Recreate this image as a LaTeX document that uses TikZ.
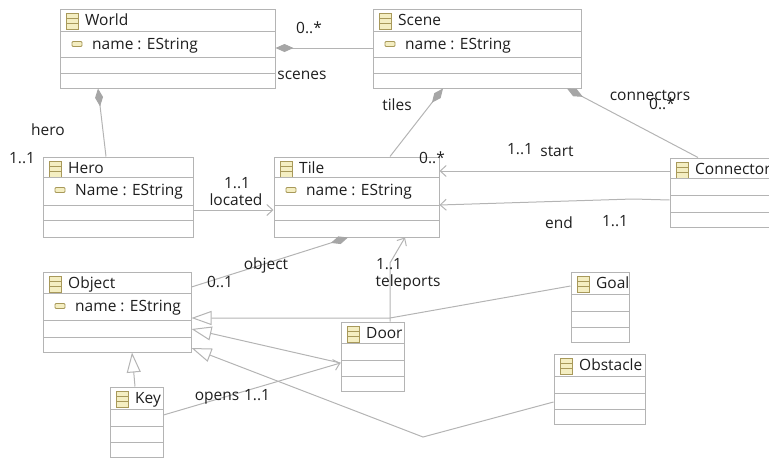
\documentclass[tikz,border=0pt]{standalone}
\usepackage{fontspec}
\setmainfont{Open Sans}
\usetikzlibrary{arrows.meta,fit}

\definecolor{edgegray}{HTML}{B4B4B4}
\definecolor{diamondgray}{HTML}{A6A6A6}
\definecolor{iconfill}{HTML}{F4EEC2}
\definecolor{icondraw}{HTML}{A8995A}
\definecolor{textdark}{HTML}{1E1E1E}

\tikzset{
  classbox/.style={draw=edgegray, line width=1pt, inner sep=0pt, fill=white},
  rowline/.style={draw=edgegray, line width=1pt},
  classicon/.style={draw=icondraw, fill=iconfill, line width=0.8pt},
  lbl/.style={text=textdark, inner sep=0pt, font=\fontsize{15.5}{18}\selectfont},
  assoc/.style={draw=edgegray, line width=1pt},
  comp/.style={assoc, -{Diamond[length=18pt,width=8pt,color=diamondgray,fill=diamondgray]}},
  navig/.style={assoc, -{Straight Barb[length=6pt,width=11pt,line width=1pt]}},
  inherit/.style={assoc, -{Triangle[open,length=20pt,width=14pt,fill=white,line width=1pt]}},
}

% class box: id, left, top, right, bottom, title
\newcommand\umlclass[6]{%
  \node[classbox, fit={(#2,#3) (#4,#5)}] (#1) {};
  \draw[classicon] (#2+6,#3+4) rectangle (#2+18,#3+20);
  \draw[icondraw, line width=0.8pt] (#2+6,#3+9.3) -- (#2+18,#3+9.3)
                                    (#2+6,#3+14.7) -- (#2+18,#3+14.7);
  \node[lbl, anchor=base west] at (#2+25,#3+16.5) {#6};
}
% compartment separators: left, right, list of heights
\newcommand\umlrows[3]{%
  \foreach \yy in {#3} \draw[rowline] (#1,\yy) -- (#2,\yy);
}
% attribute line: left, row top, text
\newcommand\umlattr[3]{%
  \draw[classicon, rounded corners=1pt] (#1+12,#2+10.5) rectangle (#1+22,#2+15.5);
  \node[lbl, anchor=base west] at (#1+32,#2+18.5) {#3};
}

\begin{document}
\begin{tikzpicture}[x=1pt, y=-1pt]
  \useasboundingbox (0,0) rectangle (769,458);
  \clip (0,0) rectangle (769,458);

  % classes
  \umlclass{world}{60}{9}{275}{88}{World}
  \umlrows{60}{275}{31,57,73}
  \umlattr{60}{31}{name : EString}

  \umlclass{scene}{373}{9}{581}{88}{Scene}
  \umlrows{373}{581}{31,57,73}
  \umlattr{373}{31}{name : EString}

  \umlclass{hero}{43}{157}{193}{237}{Hero}
  \umlrows{43}{193}{177,205,220}
  \umlattr{43}{177}{Name : EString}

  \umlclass{tile}{274}{157}{439}{237}{Tile}
  \umlrows{274}{439}{177,205,220}
  \umlattr{274}{177}{name : EString}

  \umlclass{conn}{670}{158}{790}{227}{Connector}
  \umlrows{670}{790}{178,195,212}

  \umlclass{object}{43}{272}{191}{352}{Object}
  \umlrows{43}{191}{293,320,337}
  \umlattr{43}{293}{name : EString}

  \umlclass{door}{341}{322}{404}{391}{Door}
  \umlrows{341}{404}{343,360,376}

  \umlclass{goal}{571}{272}{629}{342}{Goal}
  \umlrows{571}{629}{294,311,327}

  \umlclass{obstacle}{554}{354}{645}{424}{Obstacle}
  \umlrows{554}{645}{376,393,409}

  \umlclass{key}{110}{387}{163}{457}{Key}
  \umlrows{110}{163}{409,426,442}

  % compositions
  \draw[comp] (scene.west |- 0,48) -- (world.east |- 0,48);
  \draw[comp] (hero.north -| 106,0) -- (world.south -| 98,0);
  \draw[comp] (tile.north -| 390,0) -- (scene.south -| 443,0);
  \draw[comp] (conn.north -| 698,0) -- (scene.south -| 567,0);
  \draw[comp] (object.east |- 0,287) -- (tile.south -| 348,0);

  % navigable references
  \draw[navig] (conn.west |- 0,171) -- (tile.east |- 0,171);
  \draw[navig] (conn.west |- 0,200) -- (633,199) -- (tile.east |- 0,205);
  \draw[navig] (hero.east |- 0,210) -- (tile.west |- 0,210);
  \draw[navig] (door.north -| 390,0) -- (390,263) -- (tile.south -| 405,0);
  \draw[navig] (key.east |- 0,415) -- (door.west |- 0,363);

  % generalizations
  \draw[inherit] (goal.west |- 0,286) -- (390,318) -- (object.east |- 0,318);
  \draw[inherit] (door.west |- 0,363) -- (object.east |- 0,329);
  \draw[inherit] (obstacle.west |- 0,402) -- (423,437) -- (object.east |- 0,348);
  \draw[inherit] (key.north -| 135,0) -- (object.south -| 132,0);

  % role names and multiplicities
  \node[lbl] at (309,28) {0..*};
  \node[lbl] at (302,75) {scenes};
  \node[lbl] at (48,130) {hero};
  \node[lbl] at (22,158) {1..1};
  \node[lbl] at (237,183) {1..1};
  \node[lbl] at (236,200) {located};
  \node[lbl] at (397,105) {tiles};
  \node[lbl] at (432,158) {0..*};
  \node[lbl] at (650,95) {connectors};
  \node[lbl] at (662,104) {0..*};
  \node[lbl] at (520,149) {1..1};
  \node[lbl] at (557,151) {start};
  \node[lbl] at (559,223) {end};
  \node[lbl] at (615,221) {1..1};
  \node[lbl] at (266,265) {object};
  \node[lbl] at (220,282) {0..1};
  \node[lbl] at (389,264) {1..1};
  \node[lbl] at (408,282) {teleports};
  \node[lbl] at (217,398) {opens};
  \node[lbl] at (257,395) {1..1};
\end{tikzpicture}
\end{document}
